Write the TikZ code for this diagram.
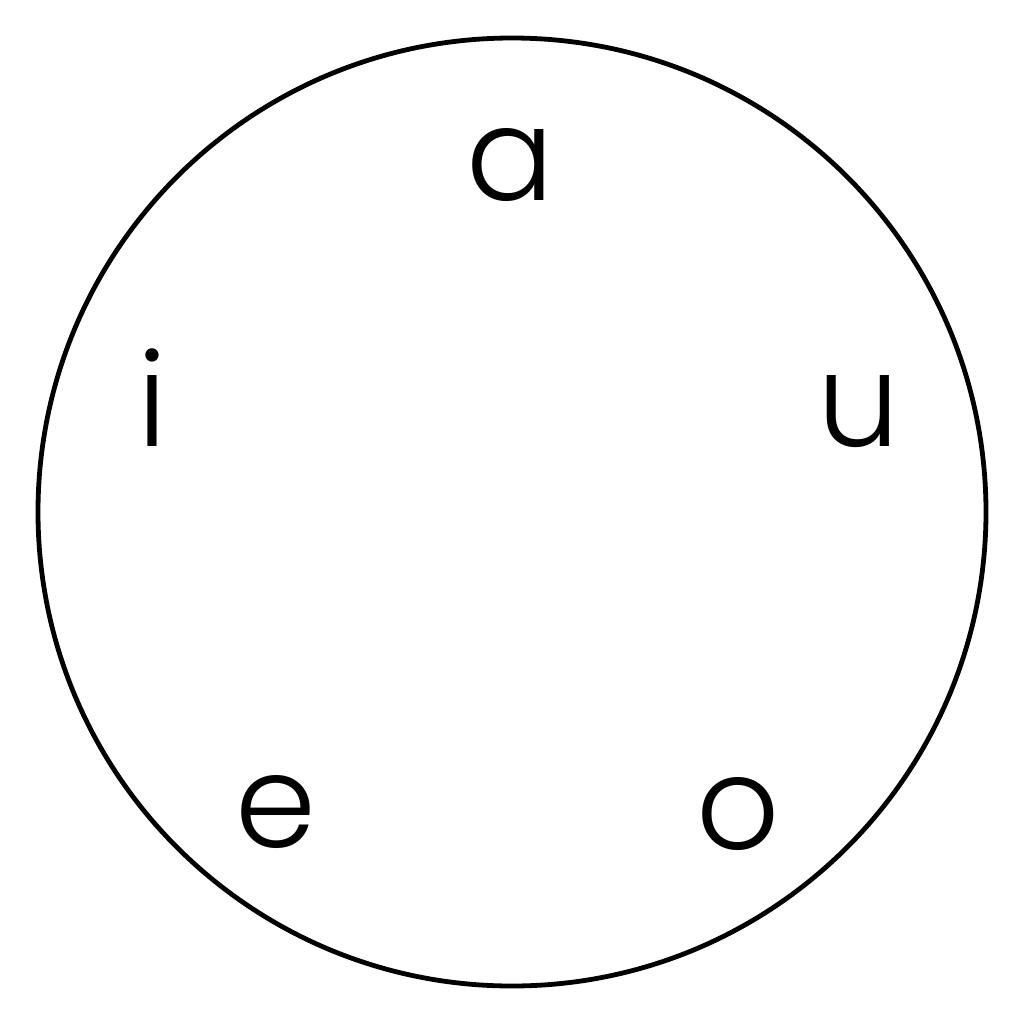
\documentclass[tikz,border=0pt]{standalone}
\usepackage{fontspec}
\setmainfont{Poppins}[UprightFont=* Light]
\usepackage{tikz}
\usetikzlibrary{positioning}

\tikzset{
    vowel/.style={anchor=base, inner sep=0pt, font=\fontsize{65}{65}\selectfont},
    ring/.style={draw, line width=2.4pt}
}

\begin{document}
\begin{tikzpicture}[x=0.5pt,y=-0.5pt]
    \useasboundingbox (0,0) rectangle (1024,1024);
    \draw[ring] (512,512) circle (474);

    \node[vowel] (a) at (510,200) {a};
    \node[vowel] (u) at (859,446) {u};
    \node[vowel] (o) at (738,849) {o};
    \node[vowel] (e) at (276,847) {e};
    \node[vowel] (i) at (152,446) {i};
\end{tikzpicture}
\end{document}
